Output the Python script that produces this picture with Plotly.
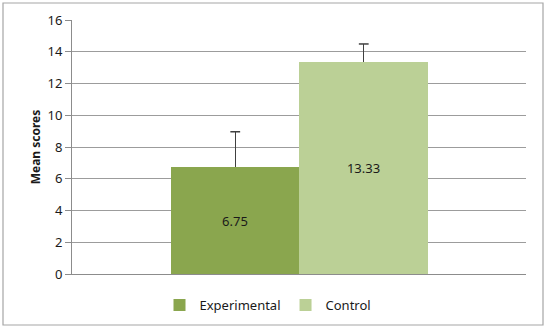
import plotly.graph_objects as go

series_names = ["Experimental", "Control"]
means = [6.75, 13.33]
errors = [2.21, 1.16]
colors = ["#8AA64E", "#BBD096"]
y_ticks = [0, 2, 4, 6, 8, 10, 12, 14, 16]

fig = go.Figure()
for name, m, e, c in zip(series_names, means, errors, colors):
    fig.add_trace(go.Bar(
        x=[name], y=[m], name=name, marker_color=c, marker_line_width=0,
        text=[f"{m:.2f}"], textposition="inside", insidetextanchor="middle",
        textfont=dict(color="#1a1a1a", size=13, family="Noto Sans"),
        error_y=dict(type="data", array=[e], arrayminus=[0], symmetric=False,
                     color="#404040", thickness=1.5, width=0),
    ))
# error-bar caps (top only)
fig.add_trace(go.Scatter(
    x=series_names, y=[m + e for m, e in zip(means, errors)], mode="markers",
    marker=dict(symbol="line-ew", size=7, line=dict(color="#404040", width=1.5)),
    showlegend=False, hoverinfo="skip",
))

W, H = 551, 328
l, r, t, b = 72, 25, 20, 54
pw, ph = W - l - r, H - t - b

def px(x):
    return (x - l) / pw

def py(y):
    return (H - b - y) / ph

fig.add_shape(type="rect", xref="paper", yref="paper",
              x0=px(3), x1=px(543), y0=py(325), y1=py(3),
              line=dict(color="#A6A6A6", width=1.2), layer="below")

fig.update_layout(
    width=W, height=H, margin=dict(l=l, r=r, t=t, b=b, autoexpand=False),
    paper_bgcolor="white", plot_bgcolor="white",
    barmode="overlay", bargap=0,
    font=dict(family="Noto Sans", size=13, color="#1a1a1a"),
    showlegend=True,
    legend=dict(orientation="h", xref="container", yref="container",
                x=268 / W, xanchor="center", y=1 - 305 / H, yanchor="middle",
                font=dict(size=13), itemwidth=30, traceorder="normal"),
    xaxis=dict(type="category", range=[-1.2704, 2.2627], showline=True, linecolor="#8C8C8C",
               linewidth=1, showticklabels=False, ticks="", showgrid=False),
    yaxis=dict(range=[0, 16], tickvals=y_ticks, showline=True, linecolor="#8C8C8C",
               linewidth=1, ticks="outside", ticklen=6, tickcolor="#8C8C8C",
               showgrid=True, gridcolor="#9C9C9C", gridwidth=1, zeroline=False,
               title=dict(text="<b>Mean scores</b>", font=dict(size=12), standoff=4),
               tickfont=dict(size=13)),
)

fig.write_html("out.html")
